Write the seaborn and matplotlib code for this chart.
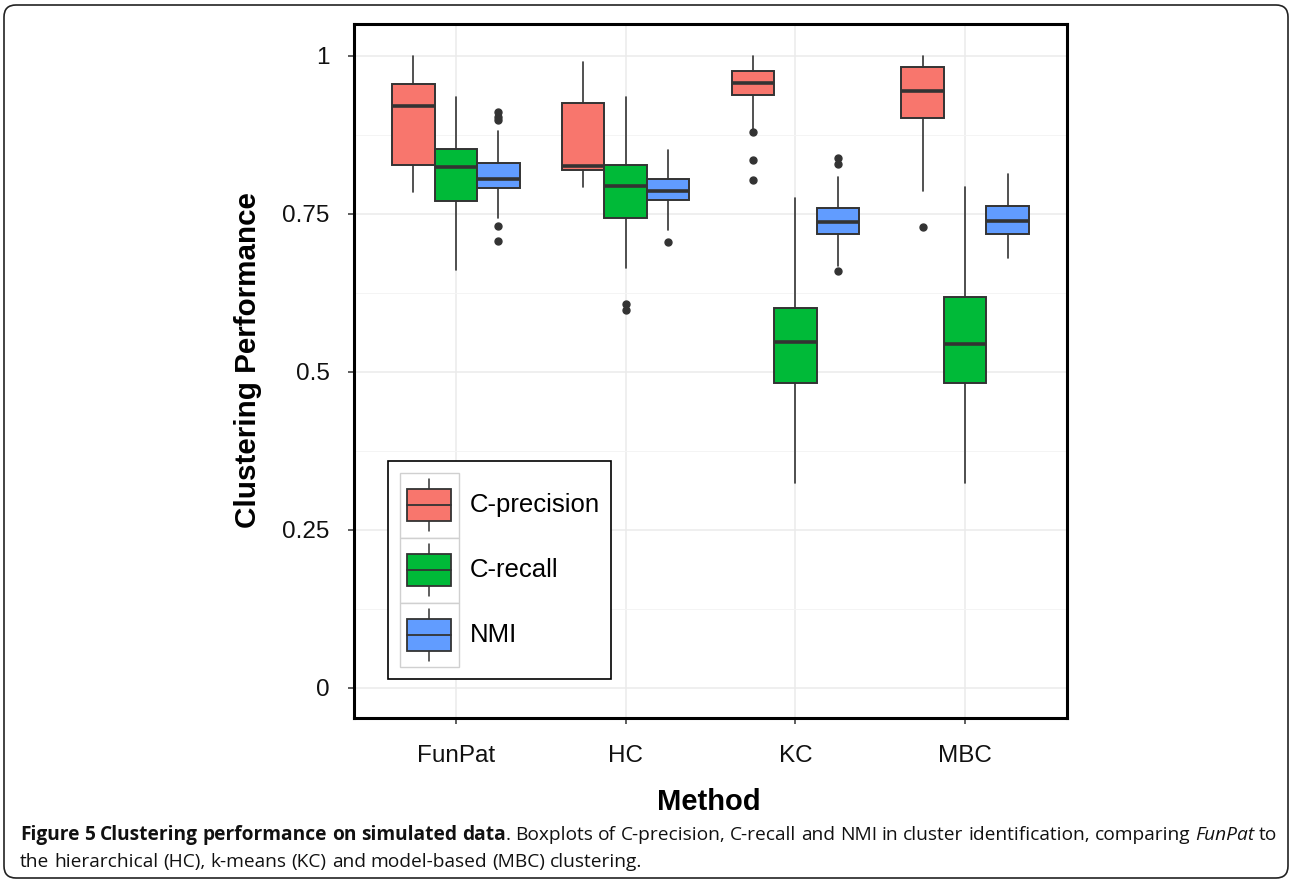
import matplotlib
matplotlib.use("Agg")
import matplotlib.pyplot as plt
import seaborn as sns
from matplotlib.patches import Rectangle, Patch, FancyBboxPatch
from matplotlib.lines import Line2D
from matplotlib.legend_handler import HandlerBase
from matplotlib.transforms import IdentityTransform
from matplotlib.ticker import MultipleLocator

methods = ["FunPat", "HC", "KC", "MBC"]
metrics = ["C-precision", "C-recall", "NMI"]
colors = ["#F8766D", "#00BA38", "#619CFF"]

# summary values, one entry per method
prec_lo = [0.784, 0.792, 0.885, 0.787]
prec_q1 = [0.827, 0.820, 0.938, 0.902]
prec_med = [0.921, 0.826, 0.957, 0.944]
prec_q3 = [0.955, 0.926, 0.977, 0.983]
prec_hi = [1.000, 0.990, 1.000, 1.000]
prec_out = [[], [], [0.880, 0.835, 0.804], [0.729]]

rec_lo = [0.661, 0.665, 0.324, 0.324]
rec_q1 = [0.771, 0.743, 0.483, 0.483]
rec_med = [0.824, 0.794, 0.547, 0.544]
rec_q3 = [0.853, 0.828, 0.602, 0.619]
rec_hi = [0.935, 0.935, 0.776, 0.793]
rec_out = [[], [0.608, 0.598], [], []]

nmi_lo = [0.744, 0.725, 0.667, 0.680]
nmi_q1 = [0.791, 0.772, 0.719, 0.719]
nmi_med = [0.805, 0.786, 0.737, 0.739]
nmi_q3 = [0.831, 0.805, 0.760, 0.762]
nmi_hi = [0.882, 0.851, 0.809, 0.813]
nmi_out = [[0.911, 0.904, 0.898, 0.731, 0.708], [0.706], [0.839, 0.829, 0.659], []]

series = [
    (prec_lo, prec_q1, prec_med, prec_q3, prec_hi, prec_out),
    (rec_lo, rec_q1, rec_med, rec_q3, rec_hi, rec_out),
    (nmi_lo, nmi_q1, nmi_med, nmi_q3, nmi_hi, nmi_out),
]

W, H, DPI = 1292, 880, 100
sns.set_theme(style="whitegrid")
plt.rcParams["font.family"] = ["Liberation Sans", "DejaVu Sans"]

fig = plt.figure(figsize=(W / DPI, H / DPI), dpi=DPI)
ax = fig.add_axes([354 / W, 1 - 718 / H, (1067 - 354) / W, (718 - 24) / H])
ax.set_facecolor("white")

edge = "#333333"
offsets = [-0.25, 0.0, 0.25]
for k, (lo, q1, med, q3, hi, out) in enumerate(series):
    stats = []
    for i in range(len(methods)):
        stats.append(dict(whislo=lo[i], q1=q1[i], med=med[i], q3=q3[i],
                          whishi=hi[i], fliers=out[i]))
    pos = [i + offsets[k] for i in range(len(methods))]
    ax.bxp(stats, positions=pos, widths=0.25, patch_artist=True, showcaps=False,
           boxprops=dict(facecolor=colors[k], edgecolor=edge, linewidth=1.4),
           medianprops=dict(color=edge, linewidth=2.6, solid_capstyle="butt"),
           whiskerprops=dict(color=edge, linewidth=1.2),
           flierprops=dict(marker="o", markersize=5, markerfacecolor=edge,
                           markeredgecolor=edge), zorder=3)

ax.set_xlim(-0.6, 3.6)
ax.set_ylim(-0.0475, 1.0506)
ax.set_xticks(range(len(methods)))
ax.set_xticklabels(methods)
ax.set_yticks([0, 0.25, 0.5, 0.75, 1])
ax.set_yticklabels(["0", "0.25", "0.5", "0.75", "1"])
ax.yaxis.set_minor_locator(MultipleLocator(0.125))
ax.grid(which="major", color="#EBEBEB", linewidth=1.1)
ax.grid(which="minor", axis="y", color="#F4F4F4", linewidth=0.7)
ax.grid(which="minor", axis="x", visible=False)
ax.set_axisbelow(True)
ax.tick_params(axis="both", which="major", length=4.5, width=1.1, color=edge,
               labelsize=17.5, labelcolor="#111111", left=True, bottom=True)
ax.tick_params(axis="y", pad=13)
ax.tick_params(axis="x", pad=15)
ax.tick_params(which="minor", left=False, bottom=False)
for s in ax.spines.values():
    s.set_color("black")
    s.set_linewidth(2.2)
ax.set_xlabel("")
ax.set_ylabel("")

fig.text(248 / W, 1 - 360 / H, "Clustering Performance", rotation=90,
         ha="center", va="center", fontsize=21.3, fontweight="bold",
         color="black")
fig.text(709 / W, 1 - 810 / H, "Method", ha="center", va="baseline",
         fontsize=21, fontweight="bold", color="black")


class BoxKey(HandlerBase):
    def create_artists(self, legend, orig_handle, xdescent, ydescent,
                       width, height, fontsize, trans):
        x0, y0 = -xdescent, -ydescent
        cell = Rectangle((x0, y0), width, height, facecolor="white",
                         edgecolor="#D0D0D0", lw=1.0, transform=trans)
        bx, bw = x0 + 0.13 * width, 0.74 * width
        by, bh = y0 + 0.25 * height, 0.5 * height
        xm = x0 + width / 2
        w1 = Line2D([xm, xm], [y0 + 0.1 * height, by], color=edge, lw=1.1,
                    transform=trans)
        w2 = Line2D([xm, xm], [by + bh, y0 + 0.9 * height], color=edge, lw=1.1,
                    transform=trans)
        box = Rectangle((bx, by), bw, bh, facecolor=orig_handle.get_facecolor(),
                        edgecolor=edge, lw=1.3, transform=trans)
        med = Line2D([bx, bx + bw], [by + bh / 2] * 2, color=edge, lw=1.3,
                     transform=trans)
        return [cell, w1, w2, box, med]


handles = [Patch(facecolor=c) for c in colors]
leg = ax.legend(handles, metrics, handler_map={Patch: BoxKey()},
                loc="lower left", bbox_to_anchor=((388 - 354) / 713, (718 - 679) / 694),
                borderaxespad=0, frameon=True, fancybox=False, framealpha=1,
                edgecolor="black", fontsize=18.5, handlelength=2.3,
                handleheight=3.51, labelspacing=0, handletextpad=0.43,
                borderpad=0.45, labelcolor="black")
leg.get_frame().set_linewidth(1.2)
leg.set_zorder(5)

# caption below the plot
renderer = fig.canvas.get_renderer()
cap_font = ["Open Sans", "DejaVu Sans"]


def text_width(s, size, weight="normal", style="normal"):
    t = fig.text(0, 0, s, fontsize=size, family=cap_font, fontweight=weight,
                 fontstyle=style)
    w = t.get_window_extent(renderer).width
    t.remove()
    return w


def to_words(text, weight="normal", style="normal"):
    return [[(w, weight, style)] for w in text.split(" ")]


line1 = to_words("Figure 5 Clustering performance on simulated", "bold")
line1.append([("data", "bold", "normal"), (".", "normal", "normal")])
line1 += to_words("Boxplots of C-precision, C-recall and NMI in cluster identification, comparing")
line1.append([("FunPat", "normal", "italic")])
line1.append([("to", "normal", "normal")])
line2 = to_words("the hierarchical (HC), k-means (KC) and model-based (MBC) clustering.")


def word_widths(words, size):
    return [[text_width(s, size, wt, st) for s, wt, st in w] for w in words]


base = 13.0
space = text_width("a a", base) - text_width("aa", base)
natural = sum(sum(w) for w in word_widths(line1, base)) + space * (len(line1) - 1)
size = base * (1277 - 20) / natural


def draw_line(words, y_px, justify):
    ww = word_widths(words, size)
    sp = text_width("a a", size) - text_width("aa", size)
    if justify:
        sp = (1277 - 20 - sum(sum(w) for w in ww)) / (len(words) - 1)
    x = 20.0
    for w, wl in zip(words, ww):
        for (s, wt, st), wd in zip(w, wl):
            fig.text(x / W, 1 - y_px / H, s, fontsize=size, family=cap_font,
                     fontweight=wt, fontstyle=st, va="baseline", ha="left",
                     color="#111111")
            x += wd
        x += sp


draw_line(line1, 840, True)
draw_line(line2, 867, False)

frame = FancyBboxPatch((4, 2), 1284, 873, boxstyle="round,pad=0,rounding_size=12",
                       transform=IdentityTransform(), facecolor="none",
                       edgecolor="#222222", linewidth=1.2)
fig.patches.append(frame)

fig.savefig("out.png", dpi=DPI)
